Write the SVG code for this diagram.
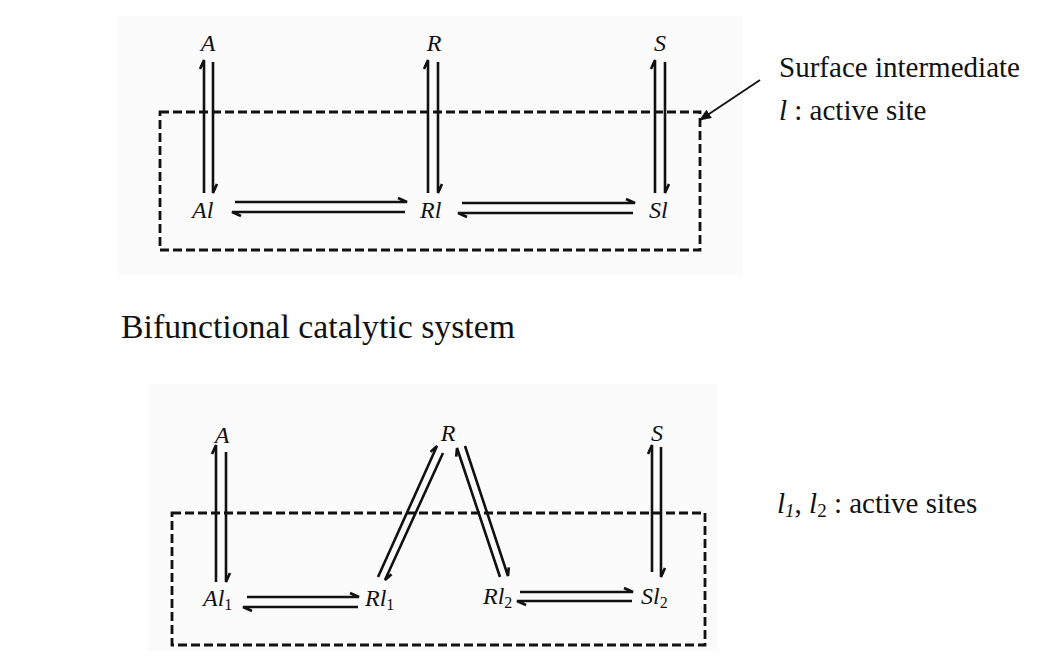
<svg xmlns="http://www.w3.org/2000/svg" width="1052" height="670" viewBox="0 0 1052 670">
<style>
.bg{fill:#fbfbfb}
.box{fill:none;stroke:#111;stroke-width:2.8;stroke-dasharray:9 4}
.h{fill:none;stroke:#111;stroke-width:2.6;stroke-linejoin:miter}
.lab{font-family:"Liberation Serif",serif;font-style:italic;font-size:24px;fill:#111}
.sub{font-size:16px;font-style:normal}
.t{font-family:"Liberation Serif","Times New Roman",serif;fill:#111}
.lead{stroke:#111;stroke-width:1.8;fill:none}
</style>
<defs>
<marker id="tri" viewBox="0 0 12 10" refX="11" refY="5" markerWidth="12" markerHeight="10" markerUnits="userSpaceOnUse" orient="auto">
<path d="M0,0 L12,5 L0,10 Z" fill="#111"/>
</marker>
</defs>
<rect width="1052" height="670" fill="#ffffff"/>
<rect class="bg" x="118" y="15" width="624" height="260"/>
<rect class="bg" x="148" y="383" width="569" height="268"/>

<g id="boxes">
<path class="box" d="M160,112 H700 V250 H160 Z"/>
<path class="box" d="M172,513 H705 V645 H172 Z"/>
</g>

<g id="connectors">
<path class="h" d="M204,193 L204,60 L200,69"/>
<path class="h" d="M213,62 L213,193 L217,184"/>
<path class="h" d="M428,193 L428,60 L424,69"/>
<path class="h" d="M438,62 L438,193 L442,184"/>
<path class="h" d="M655,193 L655,60 L651,69"/>
<path class="h" d="M665,62 L665,193 L669,184"/>
<path class="h" d="M235,202 L407,202 L398,198"/>
<path class="h" d="M405,212 L232,212 L241,216"/>
<path class="h" d="M462,203 L635,203 L626,199"/>
<path class="h" d="M633,213 L458,213 L467,217"/>

<path class="h" d="M216,582 L216,445 L212,454"/>
<path class="h" d="M226,452 L226,582 L230,573"/>
<path class="h" d="M247,597 L359,597 L350,593"/>
<path class="h" d="M358,607 L243,607 L252,611"/>
<path class="h" d="M378,577 L437,446 L430.5,451.9"/>
<path class="h" d="M443,453 L385,580 L391.5,574.2"/>
<path class="h" d="M500,577 L457,448 L456.2,456.7"/>
<path class="h" d="M465,446 L508,576 L508.8,567.3"/>
<path class="h" d="M520,592 L633,592 L624,588"/>
<path class="h" d="M632,601 L517,601 L526,605"/>
<path class="h" d="M652,572 L652,445 L648,454"/>
<path class="h" d="M661,447 L661,577 L665,568"/>

<line class="lead" x1="760" y1="80" x2="700" y2="120" marker-end="url(#tri)"/>
</g>

<g id="node-A1"><text class="lab" x="208" y="51" text-anchor="middle">A</text></g>
<g id="node-R1"><text class="lab" x="434" y="51" text-anchor="middle">R</text></g>
<g id="node-S1"><text class="lab" x="660" y="51" text-anchor="middle">S</text></g>
<g id="node-Al"><text class="lab" x="192" y="218">Al</text></g>
<g id="node-Rl"><text class="lab" x="420" y="218">Rl</text></g>
<g id="node-Sl"><text class="lab" x="649" y="218">Sl</text></g>

<g id="node-A2"><text class="lab" x="222" y="443" text-anchor="middle">A</text></g>
<g id="node-R2"><text class="lab" x="448" y="441" text-anchor="middle">R</text></g>
<g id="node-S2"><text class="lab" x="657" y="441" text-anchor="middle">S</text></g>
<g id="node-Al1"><text class="lab" x="203" y="606">Al<tspan class="sub" dy="4">1</tspan></text></g>
<g id="node-Rl1"><text class="lab" x="365" y="606">Rl<tspan class="sub" dy="4">1</tspan></text></g>
<g id="node-Rl2"><text class="lab" x="483" y="604">Rl<tspan class="sub" dy="4">2</tspan></text></g>
<g id="node-Sl2"><text class="lab" x="641" y="604">Sl<tspan class="sub" dy="4">2</tspan></text></g>

<g id="note-surface">
<text class="t" x="779" y="77" font-size="29" textLength="241" lengthAdjust="spacingAndGlyphs">Surface intermediate</text>
<text class="t" x="779" y="120" font-size="29"><tspan font-style="italic">l</tspan> : active site</text>
</g>
<g id="title-bifunctional">
<text class="t" x="121" y="338" font-size="34" textLength="394" lengthAdjust="spacingAndGlyphs">Bifunctional catalytic system</text>
</g>
<g id="note-sites">
<text class="t" x="777" y="513" font-size="29"><tspan font-style="italic">l</tspan><tspan font-style="italic" font-size="19" dy="4">1</tspan><tspan dy="-4">, </tspan><tspan font-style="italic">l</tspan><tspan font-size="19" dy="4">2</tspan><tspan dy="-4"> : active sites</tspan></text>
</g>
</svg>
